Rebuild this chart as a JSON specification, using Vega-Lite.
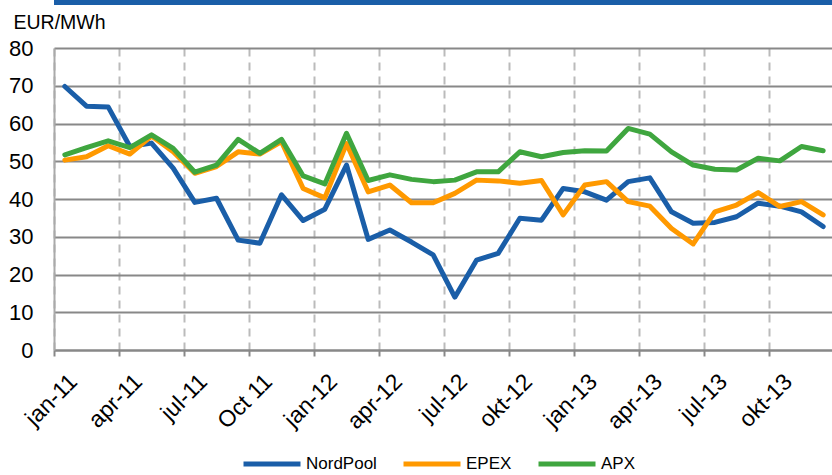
{
  "$schema": "https://vega.github.io/schema/vega-lite/v6.json",
  "autosize": "none",
  "width": 780,
  "height": 302,
  "padding": {"left": 54, "top": 48, "right": 0, "bottom": 125},
  "background": "white",
  "config": {
    "view": {"stroke": null},
    "font": "Liberation Sans",
    "axisY": {
      "titleAngle": 0,
      "titleAlign": "left",
      "titleBaseline": "alphabetic",
      "titleX": -41,
      "titleY": -20,
      "titleFontSize": 19.5,
      "titleFontWeight": "normal",
      "titleColor": "black",
      "labelFontSize": 22,
      "labelColor": "black",
      "labelPadding": 21,
      "labelOverlap": false,
      "labelBound": false,
      "labelFlush": false,
      "ticks": false,
      "domainColor": "#aaaaaa",
      "domainWidth": 2,
      "gridColor": "#888888",
      "gridWidth": 2
    }
  },
  "data": {
    "values": [
      {"m": "jan-11", "NordPool": 69.8, "EPEX": 50.3, "APX": 51.7},
      {"m": "feb-11", "NordPool": 64.6, "EPEX": 51.2, "APX": 53.6},
      {"m": "mar-11", "NordPool": 64.4, "EPEX": 54.1, "APX": 55.4},
      {"m": "apr-11", "NordPool": 53.9, "EPEX": 51.9, "APX": 53.6},
      {"m": "mai-11", "NordPool": 54.8, "EPEX": 56.7, "APX": 57.0},
      {"m": "jun-11", "NordPool": 48.2, "EPEX": 52.5, "APX": 53.4},
      {"m": "jul-11", "NordPool": 39.1, "EPEX": 46.8, "APX": 47.1},
      {"m": "aug-11", "NordPool": 40.2, "EPEX": 48.6, "APX": 49.0},
      {"m": "sep-11", "NordPool": 29.1, "EPEX": 52.5, "APX": 55.8},
      {"m": "Oct 11", "NordPool": 28.3, "EPEX": 51.9, "APX": 52.1},
      {"m": "nov-11", "NordPool": 41.1, "EPEX": 55.2, "APX": 55.8},
      {"m": "des-11", "NordPool": 34.3, "EPEX": 42.8, "APX": 46.1},
      {"m": "jan-12", "NordPool": 37.3, "EPEX": 40.3, "APX": 44.0},
      {"m": "feb-12", "NordPool": 49.0, "EPEX": 54.7, "APX": 57.4},
      {"m": "mar-12", "NordPool": 29.3, "EPEX": 41.9, "APX": 44.9},
      {"m": "apr-12", "NordPool": 31.8, "EPEX": 43.7, "APX": 46.4},
      {"m": "mai-12", "NordPool": 28.6, "EPEX": 39.0, "APX": 45.2},
      {"m": "jun-12", "NordPool": 25.2, "EPEX": 39.0, "APX": 44.6},
      {"m": "jul-12", "NordPool": 14.0, "EPEX": 41.5, "APX": 45.0},
      {"m": "aug-12", "NordPool": 23.8, "EPEX": 45.0, "APX": 47.2},
      {"m": "sep-12", "NordPool": 25.6, "EPEX": 44.8, "APX": 47.2},
      {"m": "okt-12", "NordPool": 34.9, "EPEX": 44.2, "APX": 52.5},
      {"m": "nov-12", "NordPool": 34.4, "EPEX": 44.9, "APX": 51.2},
      {"m": "des-12", "NordPool": 42.8, "EPEX": 35.8, "APX": 52.3},
      {"m": "jan-13", "NordPool": 41.9, "EPEX": 43.7, "APX": 52.8},
      {"m": "feb-13", "NordPool": 39.7, "EPEX": 44.6, "APX": 52.7},
      {"m": "mar-13", "NordPool": 44.6, "EPEX": 39.3, "APX": 58.7},
      {"m": "apr-13", "NordPool": 45.6, "EPEX": 38.1, "APX": 57.2},
      {"m": "mai-13", "NordPool": 36.6, "EPEX": 32.2, "APX": 52.5},
      {"m": "jun-13", "NordPool": 33.6, "EPEX": 28.1, "APX": 49.0},
      {"m": "jul-13", "NordPool": 33.8, "EPEX": 36.6, "APX": 47.9},
      {"m": "aug-13", "NordPool": 35.3, "EPEX": 38.4, "APX": 47.7},
      {"m": "sep-13", "NordPool": 38.9, "EPEX": 41.7, "APX": 50.8},
      {"m": "okt-13", "NordPool": 38.1, "EPEX": 38.0, "APX": 50.1},
      {"m": "nov-13", "NordPool": 36.6, "EPEX": 39.3, "APX": 53.9},
      {"m": "des-13", "NordPool": 32.7, "EPEX": 35.8, "APX": 52.8}
    ]
  },
  "layer": [
    {
      "transform": [{"fold": ["NordPool", "EPEX", "APX"], "as": ["series", "value"]}],
      "mark": {"type": "line", "strokeWidth": 5, "strokeJoin": "round", "strokeCap": "round"},
      "encoding": {
        "x": {
          "field": "m",
          "type": "ordinal",
          "sort": null,
          "scale": {"type": "band", "paddingInner": 0, "paddingOuter": 0},
          "axis": {
            "title": null,
            "values": ["jan-11", "apr-11", "jul-11", "Oct 11", "jan-12", "apr-12", "jul-12", "okt-12", "jan-13", "apr-13", "jul-13", "okt-13"],
            "bandPosition": 0,
            "labelAngle": -45,
            "labelAlign": "right",
            "labelBaseline": "top",
            "labelFontSize": 23,
            "labelColor": "black",
            "labelOffset": 1,
            "labelPadding": 14,
            "labelOverlap": false,
            "labelBound": false,
            "domainColor": "#888888",
            "domainWidth": 2,
            "tickColor": "#888888",
            "tickWidth": 2,
            "tickSize": 6,
            "grid": true,
            "gridColor": "#bbbbbb",
            "gridWidth": 2,
            "gridDash": [8, 6]
          }
        },
        "y": {
          "field": "value",
          "type": "quantitative",
          "scale": {"domain": [0, 80], "nice": false},
          "axis": {"title": "EUR/MWh", "values": [0, 10, 20, 30, 40, 50, 60, 70, 80]}
        },
        "color": {
          "field": "series",
          "type": "nominal",
          "sort": ["NordPool", "EPEX", "APX"],
          "scale": {"domain": ["NordPool", "EPEX", "APX"], "range": ["#1a5ea8", "#ff9900", "#3fa63f"]},
          "legend": {
            "title": null,
            "orient": "none",
            "direction": "horizontal",
            "legendX": 208,
            "legendY": 406,
            "symbolType": "M-4,0H4",
            "symbolSize": 203,
            "symbolStrokeWidth": 5,
            "symbolFillColor": "transparent",
            "labelFontSize": 17,
            "labelColor": "black",
            "labelOffset": 24,
            "columnPadding": 16
          }
        }
      }
    },
    {
      "mark": {"type": "rule", "color": "#1a5ea8", "strokeWidth": 5},
      "encoding": {
        "y": {
          "datum": 92.2,
          "type": "quantitative",
          "axis": {"title": "EUR/MWh", "values": [0, 10, 20, 30, 40, 50, 60, 70, 80]}
        }
      }
    }
  ]
}
